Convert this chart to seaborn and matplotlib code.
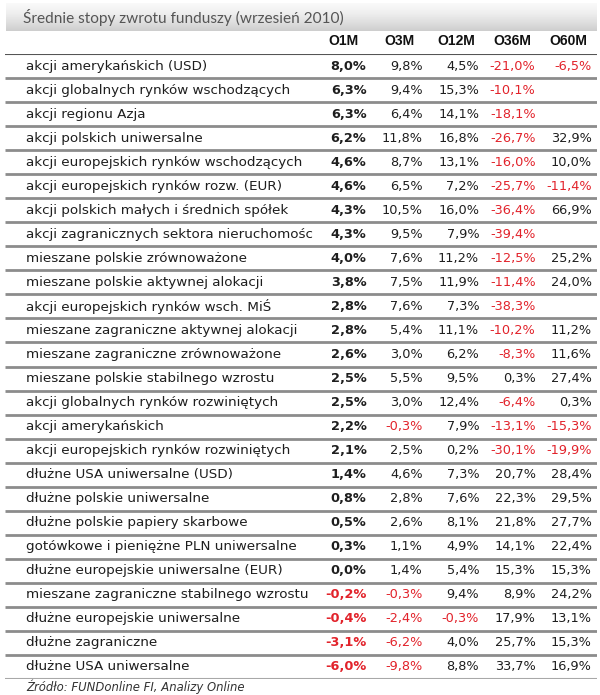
import numpy as np
import pandas as pd
import seaborn as sns
import matplotlib.pyplot as plt
from matplotlib.colors import ListedColormap
from matplotlib.transforms import Bbox, TransformedBbox

sns.set_theme(style="white")
plt.rcParams['font.family'] = ['DejaVu Sans']

title = "Średnie stopy zwrotu funduszy (wrzesień 2010)"
source = "Źródło: FUNDonline FI, Analizy Online"
columns = ["O1M", "O3M", "O12M", "O36M", "O60M"]

funds = [
    "akcji amerykańskich (USD)",
    "akcji globalnych rynków wschodzących",
    "akcji regionu Azja",
    "akcji polskich uniwersalne",
    "akcji europejskich rynków wschodzących",
    "akcji europejskich rynków rozw. (EUR)",
    "akcji polskich małych i średnich spółek",
    "akcji zagranicznych sektora nieruchomości",
    "mieszane polskie zrównoważone",
    "mieszane polskie aktywnej alokacji",
    "akcji europejskich rynków wsch. MiŚ",
    "mieszane zagraniczne aktywnej alokacji",
    "mieszane zagraniczne zrównoważone",
    "mieszane polskie stabilnego wzrostu",
    "akcji globalnych rynków rozwiniętych",
    "akcji amerykańskich",
    "akcji europejskich rynków rozwiniętych",
    "dłużne USA uniwersalne (USD)",
    "dłużne polskie uniwersalne",
    "dłużne polskie papiery skarbowe",
    "gotówkowe i pieniężne PLN uniwersalne",
    "dłużne europejskie uniwersalne (EUR)",
    "mieszane zagraniczne stabilnego wzrostu",
    "dłużne europejskie uniwersalne",
    "dłużne zagraniczne",
    "dłużne USA uniwersalne",
]

o1m = [8.0, 6.3, 6.3, 6.2, 4.6, 4.6, 4.3, 4.3, 4.0, 3.8, 2.8, 2.8, 2.6,
       2.5, 2.5, 2.2, 2.1, 1.4, 0.8, 0.5, 0.3, 0.0, -0.2, -0.4, -3.1, -6.0]
o3m = [9.8, 9.4, 6.4, 11.8, 8.7, 6.5, 10.5, 9.5, 7.6, 7.5, 7.6, 5.4, 3.0,
       5.5, 3.0, -0.3, 2.5, 4.6, 2.8, 2.6, 1.1, 1.4, -0.3, -2.4, -6.2, -9.8]
o12m = [4.5, 15.3, 14.1, 16.8, 13.1, 7.2, 16.0, 7.9, 11.2, 11.9, 7.3, 11.1, 6.2,
        9.5, 12.4, 7.9, 0.2, 7.3, 7.6, 8.1, 4.9, 5.4, 9.4, -0.3, 4.0, 8.8]
o36m = [-21.0, -10.1, -18.1, -26.7, -16.0, -25.7, -36.4, -39.4, -12.5, -11.4, -38.3, -10.2, -8.3,
        0.3, -6.4, -13.1, -30.1, 20.7, 22.3, 21.8, 14.1, 15.3, 8.9, 17.9, 25.7, 33.7]
o60m = [-6.5, np.nan, np.nan, 32.9, 10.0, -11.4, 66.9, np.nan, 25.2, 24.0, np.nan, 11.2, 11.6,
        27.4, 0.3, -15.3, -19.9, 28.4, 29.5, 27.7, 22.4, 15.3, 24.2, 13.1, 15.3, 16.9]

df = pd.DataFrame({"O1M": o1m, "O3M": o3m, "O12M": o12m, "O36M": o36m, "O60M": o60m},
                  index=funds)[columns]

RED = "#e2232b"
DARK = "#1e1e1e"

fig = plt.figure(figsize=(6, 6.95), dpi=100)

# title bar with vertical gradient
tax = fig.add_axes([6 / 600, 1 - 31 / 695, 591 / 600, 28 / 695])
grad = np.linspace(0, 1, 64).reshape(-1, 1)
tax.imshow(grad, aspect="auto", cmap=ListedColormap(plt.cm.Greys(np.linspace(0.04, 0.3, 64))),
           extent=(0, 1, 0, 1))
tax.set_axis_off()
tax.text(17 / 591, 0.5, title, ha="left", va="center", fontsize=11.1, color="#555555",
         family="Lato", transform=tax.transAxes)

# table body: heatmap of white cells, label area on the left
ax = fig.add_axes([5 / 600, 1 - 679 / 695, 592 / 600, 625 / 695])
sns.heatmap(df, ax=ax, cmap=ListedColormap(["white"]), cbar=False, linewidths=0,
            xticklabels=True, yticklabels=False)
ax.set_xlim(-5.5, 5)
ax.set_ylim(len(funds), 0)
ax.xaxis.tick_top()
ax.tick_params(axis="x", length=0, pad=4)
ax.set_xticklabels(columns, fontsize=10, fontweight="bold", family="Liberation Sans",
                   color="#111111", rotation=0)
ax.set_ylabel("")
for s in ax.spines.values():
    s.set_visible(False)

clip = TransformedBbox(Bbox([[-5.5, 0], [-0.02, len(funds)]]), ax.transData)
for i, name in enumerate(funds):
    t = ax.text(-5.5 + 21 / 56.4, i + 0.5, name, ha="left", va="center",
                fontsize=9.7, color=DARK)
    t.set_clip_box(clip)
    t.set_clip_on(True)
    for j, col in enumerate(columns):
        v = df.iloc[i, j]
        if np.isnan(v):
            continue
        s = f"{v:.1f}%".replace(".", ",")
        ax.text(j + 1 - 0.09, i + 0.5, s, ha="right", va="center", fontsize=9.3,
                color=RED if v < 0 else DARK, fontweight="bold" if j == 0 else "normal")

ax.hlines(np.arange(1, len(funds)), -5.5, 5, color="#8c8c8c", lw=2)
ax.hlines([len(funds)], -5.5, 5, color="#a8a8a8", lw=1.5)
ax.hlines([0], -5.5, 5, color="#555555", lw=1.5)

fig.text(26 / 600, 1 - 687 / 695, source, ha="left", va="center", fontsize=8.4,
         style="italic", color="#333333")

fig.savefig("out.png", dpi=100)
